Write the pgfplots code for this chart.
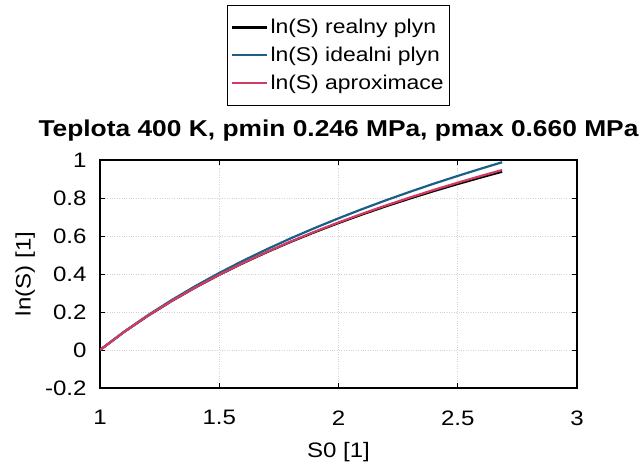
\documentclass[border=0pt]{standalone}
\usepackage{pgfplots}
\pgfplotsset{compat=1.18}
\usepackage{fontspec}
\setmainfont{Liberation Sans}[FakeStretch=1.15]
\definecolor{cblue}{RGB}{25,95,135}
\definecolor{cred}{RGB}{210,60,100}
\begin{document}
\begin{tikzpicture}
\useasboundingbox (0,0) rectangle (641bp,463bp);
\begin{axis}[
  at={(100bp,75bp)}, anchor=south west,
  scale only axis, width=477bp, height=228bp,
  xmin=1, xmax=3, ymin=-0.2, ymax=1,
  xtick={1,1.5,2,2.5,3}, ytick={-0.2,0,0.2,0.4,0.6,0.8,1},
  yticklabels={-0.2,0,0.2,0.4,0.6,0.8,1},
  xticklabels={1,1.5,2,2.5,3},
  tick align=inside, tick pos=both,
  major tick length=5bp,
  axis line style={line width=1.2bp},
  tick style={line width=0.8bp, black},
  grid=major, grid style={dotted, gray!35, line width=0.7bp},
  ticklabel style={font=\fontsize{21}{24}\selectfont},
  xticklabel style={yshift=-19bp},
  yticklabel style={xshift=-10bp},
  /pgf/number format/assume math mode=true,
  xlabel={S0 [1]}, ylabel={ln(S) [1]},
  label style={font=\fontsize{21}{24}\selectfont},
  xlabel style={at={(axis description cs:0.5,0)}, anchor=center, yshift=-64bp},
  ylabel style={at={(axis description cs:-0.157,0.5)}, anchor=center},
  title={Teplota 400 K, pmin 0.246 MPa, pmax 0.660 MPa},
  title style={font=\bfseries\fontsize{23}{26}\selectfont, at={(axis description cs:0.5,1)}, anchor=base, yshift=18bp},
  legend style={at={(axis description cs:0.5,1.68)}, anchor=north, draw=black, line width=1bp,
    font=\fontsize{20}{22}\selectfont, row sep=8bp, inner xsep=4bp, inner ysep=12bp,
    nodes={inner xsep=2bp}},
  legend cell align=left,
  legend image code/.code={\draw[#1] (0bp,0bp) -- (35bp,0bp);},
]
\addplot[black, line width=2.2bp] coordinates {
(1.0,0) (1.1,0.0941) (1.2,0.1793) (1.3,0.2573) (1.4,0.3290) (1.5,0.3955)
(1.6,0.4573) (1.7,0.5150) (1.8,0.5692) (1.9,0.6201) (2.0,0.6681) (2.1,0.7136)
(2.2,0.7567) (2.3,0.7975) (2.4,0.8365) (2.5,0.8736) (2.6,0.9090) (2.686,0.9383)};
\addlegendentry{ln(S) realny plyn}
\addplot[cblue, line width=2.2bp] coordinates {
(1.0,0) (1.1,0.0953) (1.2,0.1823) (1.3,0.2624) (1.4,0.3365) (1.5,0.4055)
(1.6,0.4700) (1.7,0.5306) (1.8,0.5878) (1.9,0.6419) (2.0,0.6931) (2.1,0.7419)
(2.2,0.7885) (2.3,0.8329) (2.4,0.8755) (2.5,0.9163) (2.6,0.9555) (2.686,0.9881)};
\addlegendentry{ln(S) idealni plyn}
\addplot[cred, line width=2.2bp] coordinates {
(1.0,0) (1.1,0.0941) (1.2,0.1794) (1.3,0.2576) (1.4,0.3295) (1.5,0.3963)
(1.6,0.4584) (1.7,0.5165) (1.8,0.5712) (1.9,0.6227) (2.0,0.6713) (2.1,0.7174)
(2.2,0.7613) (2.3,0.8028) (2.4,0.8427) (2.5,0.8807) (2.6,0.9171) (2.686,0.9473)};
\addlegendentry{ln(S) aproximace}
\end{axis}
\end{tikzpicture}
\end{document}
